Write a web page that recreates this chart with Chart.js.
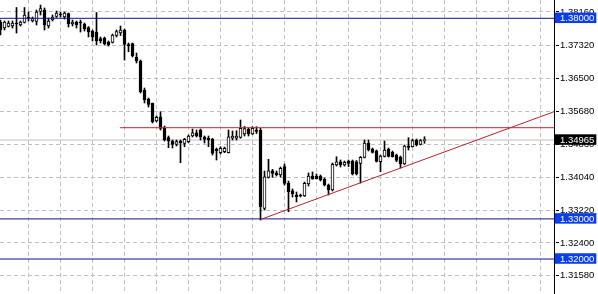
<!DOCTYPE html>
<html>
<head>
<meta charset="utf-8">
<script src="https://cdn.jsdelivr.net/npm/chart.js@4.4.1/dist/chart.umd.min.js"></script>
<style>
  html, body { margin: 0; padding: 0; background: #fff; }
  #wrap { width: 598px; height: 294px; position: relative; }
</style>
</head>
<body>
<div id="wrap"><canvas id="myChart"></canvas></div>
<script>
// candles, one entry per bar
var opens = [1.37908,1.37758,1.37795,1.37808,1.37883,1.37833,1.37895,1.38032,1.37933,1.37920,
  1.38169,1.38207,1.37808,1.37957,1.38045,1.38107,1.38032,1.38119,1.37858,1.37908,
  1.37908,1.37858,1.37771,1.37683,1.37658,1.37496,1.37509,1.37409,1.37397,1.37571,
  1.37633,1.37708,1.37347,1.37372,1.37035,1.36935,1.36213,1.35988,1.35881,1.35440,
  1.35547,1.35258,1.35024,1.34941,1.34859,1.34941,1.34884,1.34924,1.35066,1.35148,
  1.35215,1.35041,1.35009,1.34984,1.34734,1.34650,1.34675,1.34650,1.35009,1.35009,
  1.35033,1.35116,1.35233,1.35116,1.35215,1.35205,1.33264,1.34036,1.34201,1.34151,
  1.34094,1.34301,1.33887,1.33702,1.33595,1.33588,1.33570,1.33869,1.34069,1.34069,
  1.34069,1.33987,1.33845,1.33720,1.34343,1.34425,1.34343,1.34443,1.34443,1.34425,
  1.34385,1.34535,1.34884,1.34742,1.34699,1.34425,1.34555,1.34734,1.34660,1.34592,
  1.34542,1.34368,1.34817,1.34799,1.34966,1.34859,1.34949];
var highs = [1.37957,1.37933,1.37933,1.37933,1.38269,1.37933,1.38269,1.38157,1.38032,1.38207,
  1.38331,1.38257,1.38007,1.38082,1.38182,1.38157,1.38157,1.38132,1.37957,1.37933,
  1.37957,1.37883,1.37795,1.37708,1.38144,1.37534,1.37534,1.37434,1.37608,1.37708,
  1.37808,1.37733,1.37384,1.37384,1.37135,1.36960,1.36262,1.36013,1.35889,1.35564,
  1.35672,1.35315,1.35066,1.34966,1.34966,1.34966,1.35009,1.35091,1.35240,1.35215,
  1.35240,1.35066,1.35066,1.35009,1.34767,1.34799,1.34792,1.35215,1.35191,1.35198,
  1.35465,1.35303,1.35265,1.35298,1.35298,1.35258,1.34193,1.34485,1.34236,1.34193,
  1.34293,1.34368,1.33944,1.33745,1.33670,1.33620,1.33919,1.34144,1.34169,1.34119,
  1.34094,1.34019,1.33869,1.34393,1.34550,1.34468,1.34443,1.34468,1.34468,1.34455,
  1.34555,1.34966,1.34966,1.34767,1.34717,1.34592,1.34941,1.34767,1.34692,1.34617,
  1.34567,1.34842,1.35024,1.34991,1.34991,1.34979,1.35048];
var lows = [1.37584,1.37708,1.37783,1.37758,1.37633,1.37808,1.37883,1.37933,1.37908,1.37833,
  1.38082,1.37708,1.37758,1.37933,1.38020,1.38032,1.37982,1.37783,1.37808,1.37758,
  1.37658,1.37683,1.37534,1.37434,1.37334,1.37384,1.37334,1.37309,1.37384,1.37534,
  1.37571,1.36960,1.37167,1.37035,1.36886,1.36138,1.35889,1.35789,1.35390,1.35415,
  1.35215,1.34941,1.34774,1.34767,1.34817,1.34400,1.34799,1.34899,1.35041,1.35041,
  1.34966,1.34891,1.34799,1.34592,1.34468,1.34617,1.34650,1.34642,1.34966,1.34966,
  1.35009,1.35066,1.35066,1.35103,1.35128,1.32972,1.33221,1.34019,1.34036,1.34069,
  1.34044,1.33845,1.33179,1.33545,1.33421,1.33545,1.33558,1.33820,1.33987,1.33994,
  1.33944,1.33820,1.33595,1.33695,1.34318,1.34293,1.34318,1.34301,1.34094,1.34094,
  1.33894,1.34518,1.34692,1.34642,1.34418,1.34176,1.34542,1.34542,1.34542,1.34425,
  1.34268,1.34355,1.34717,1.34792,1.34817,1.34842,1.34884];
var closes = [1.37708,1.37908,1.37883,1.37883,1.37858,1.37908,1.38082,1.38007,1.37995,1.38157,
  1.38244,1.37833,1.37933,1.38032,1.38132,1.38082,1.38132,1.37858,1.37908,1.37833,
  1.37883,1.37733,1.37658,1.37534,1.37434,1.37434,1.37359,1.37334,1.37584,1.37671,
  1.37708,1.37347,1.37309,1.37060,1.36935,1.36170,1.35963,1.35856,1.35422,1.35532,
  1.35258,1.34966,1.34941,1.34859,1.34924,1.34899,1.34984,1.35066,1.35148,1.35066,
  1.35041,1.34984,1.34966,1.34635,1.34699,1.34759,1.34759,1.35048,1.35066,1.35066,
  1.35258,1.35253,1.35116,1.35258,1.35178,1.33304,1.34051,1.34201,1.34136,1.34101,
  1.34261,1.33887,1.33678,1.33620,1.33553,1.33570,1.33887,1.34069,1.33994,1.34002,
  1.33969,1.33845,1.33720,1.34360,1.34425,1.34343,1.34410,1.34385,1.34119,1.34119,
  1.34535,1.34891,1.34717,1.34660,1.34430,1.34567,1.34717,1.34555,1.34550,1.34455,
  1.34368,1.34817,1.34784,1.34949,1.34842,1.34954,1.34965];

// price scale labels and the marked levels
var priceTicks = [1.3816, 1.3732, 1.3650, 1.3568, 1.3486, 1.3404, 1.3322, 1.3240, 1.3158];
var blueLevels = [1.38, 1.33, 1.32];
var bidPrice = 1.34965;
var redLevel = 1.35273;
var redLevelFrom = 29.9;            // bar index where the red line starts
var trendX = [65, 138.4];           // trend line, bar index
var trendY = [1.32985, 1.35672];    // trend line, price
var timeGrid = [7, 15, 23, 31, 39, 47, 55, 63, 71, 79, 87, 95, 103, 111, 119, 127, 135];

var yMin = 1.31128, yMax = 1.38456;
var xMin = -0.125, xMax = 138.375;

function isMarked(v){
  return blueLevels.indexOf(v) >= 0 || v === bidPrice;
}
function isDummy(v){
  return v < yMin || v > yMax;
}

var wicks = [], bodies = [];
for (var i = 0; i < opens.length; i++) {
  wicks.push({x: i, y: [lows[i], highs[i]]});
  bodies.push({x: i, y: [opens[i], closes[i]]});
}

var datasets = [
  {
    type: "bar", label: "body", data: bodies, order: 1,
    barThickness: 3, minBarLength: 1, grouped: false,
    borderSkipped: false, borderWidth: 1, borderColor: "#000",
    backgroundColor: function(c){
      return closes[c.dataIndex] >= opens[c.dataIndex] ? "#fff" : "#000";
    }
  },
  {
    type: "bar", label: "wick", data: wicks, order: 2,
    barThickness: 1, minBarLength: 1, grouped: false,
    borderWidth: 0, backgroundColor: "#000"
  },
  {
    type: "line", label: "bid", order: 3,
    data: [{x: xMin - 1, y: bidPrice}, {x: xMax + 1, y: bidPrice}],
    borderColor: "#c0c0c0", borderWidth: 1, pointRadius: 0
  },
  {
    type: "line", label: "red", order: 0,
    data: [{x: redLevelFrom, y: redLevel}, {x: xMax + 1, y: redLevel}],
    borderColor: "#c4262c", borderWidth: 1, pointRadius: 0
  },
  {
    type: "line", label: "trend", order: 0,
    data: [{x: trendX[0], y: trendY[0]}, {x: trendX[1], y: trendY[1]}],
    borderColor: "#b8222a", borderWidth: 1, pointRadius: 0
  }
];
blueLevels.forEach(function(v){
  datasets.push({
    type: "line", label: "level", order: 0,
    data: [{x: xMin - 1, y: v}, {x: xMax + 1, y: v}],
    borderColor: "#10108a", borderWidth: 1, pointRadius: 0
  });
});

var ctx = document.getElementById("myChart");

var myChart = new Chart(ctx, {
  type: "bar",
  data: { datasets: datasets },
  options: {
    responsive: true,
    maintainAspectRatio: false,
    animation: false,
    events: [],
    layout: { padding: 0 },
    plugins: { legend: { display: false }, tooltip: { enabled: false } },
    scales: {
      x: {
        type: "linear", min: xMin, max: xMax, offset: false,
        ticks: { display: false },
        grid: { color: "#c0c0c0", drawTicks: false, offset: false },
        border: { display: false, dash: [4, 3] },
        afterBuildTicks: function(scale){
          scale.ticks = timeGrid.map(function(v){ return {value: v}; });
        }
      },
      y: {
        type: "linear", position: "right", min: yMin, max: yMax,
        border: { display: true, color: "#000", width: 1, dash: [4, 3] },
        grid: {
          tickLength: 6,
          color: function(c){
            var v = c.tick ? c.tick.value : 0;
            return (isMarked(v) || isDummy(v)) ? "rgba(0,0,0,0)" : "#c0c0c0";
          },
          tickColor: function(c){
            var v = c.tick ? c.tick.value : 0;
            return (isMarked(v) || isDummy(v)) ? "rgba(0,0,0,0)" : "#000";
          },
          tickBorderDash: [3, 2],
          tickBorderDashOffset: 4
        },
        ticks: {
          autoSkip: false,
          padding: 0,
          // the off-screen end ticks get a near-zero line height so the scale adds no padding
          font: function(c){
            if (c.tick && isDummy(c.tick.value)) return { family: "Liberation Sans", size: 1, lineHeight: 0.01 };
            return { family: "Liberation Sans", size: 9.5, lineHeight: 1 };
          },
          color: function(c){ return isMarked(c.tick.value) ? "#fff" : "#000"; },
          showLabelBackdrop: function(c){ return isMarked(c.tick.value); },
          backdropColor: function(c){ return c.tick.value === bidPrice ? "#000" : "#0a3cf0"; },
          backdropPadding: { left: 5, right: 2, top: 1, bottom: 0 },
          callback: function(value){
            if (isDummy(value)) return "";
            return value.toFixed(5);
          }
        },
        afterBuildTicks: function(scale){
          var vals = [yMin - 1].concat(priceTicks, blueLevels, [bidPrice], [yMax + 1]);
          scale.ticks = vals.map(function(v){ return {value: v}; });
        },
        afterFit: function(scale){
          scale.width = 44;
        }
      }
    }
  }
});
</script>
</body>
</html>
